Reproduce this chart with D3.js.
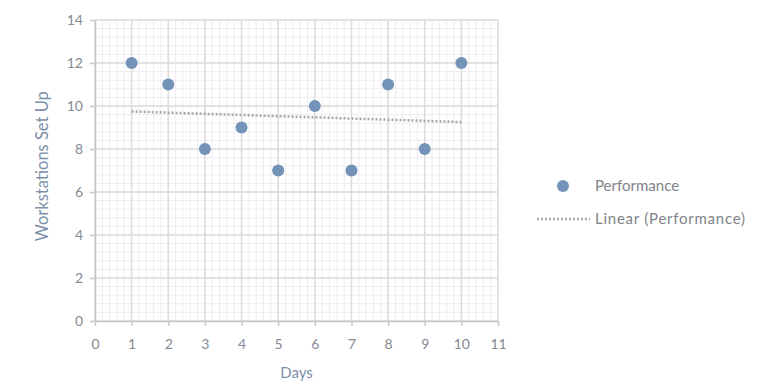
<!DOCTYPE html>
<html>
<head>
<meta charset="utf-8">
<script src="https://cdn.jsdelivr.net/npm/d3@7"></script>
<style>
  body { margin: 0; background: #fff; }
  svg { display: block; font-family: "Lato", "Open Sans", sans-serif; }
</style>
</head>
<body>
<div id="chart"></div>
<script>
// data
const days = [1, 2, 3, 4, 5, 6, 7, 8, 9, 10];
const workstations = [12, 11, 8, 9, 7, 10, 7, 11, 8, 12];
const xTicks = [0, 1, 2, 3, 4, 5, 6, 7, 8, 9, 10, 11];
const yTicks = [0, 2, 4, 6, 8, 10, 12, 14];
const seriesName = "Performance";

const width = 757;
const height = 384;
const margin = { top: 20, right: 259, bottom: 63, left: 95 };

const svg = d3
  .select("#chart")
  .append("svg")
  .attr("width", width)
  .attr("height", height);

const x = d3
  .scaleLinear()
  .domain([0, 11])
  .range([margin.left, width - margin.right]);
const y = d3
  .scaleLinear()
  .domain([0, 14])
  .range([height - margin.bottom, margin.top]);

// minor grid
const minorX = d3.range(0, 11.001, 0.2);
const minorY = d3.range(0, 14.001, 0.4);
const grid = svg.append("g");
grid
  .selectAll(".mx")
  .data(minorX)
  .enter()
  .append("line")
  .attr("x1", (d) => x(d))
  .attr("x2", (d) => x(d))
  .attr("y1", y(0))
  .attr("y2", y(14))
  .attr("stroke", "#eeecf2")
  .attr("stroke-width", 1);
grid
  .selectAll(".my")
  .data(minorY)
  .enter()
  .append("line")
  .attr("x1", x(0))
  .attr("x2", x(11))
  .attr("y1", (d) => y(d))
  .attr("y2", (d) => y(d))
  .attr("stroke", "#eeecf2")
  .attr("stroke-width", 1);

// major grid
grid
  .selectAll(".gx")
  .data(xTicks)
  .enter()
  .append("line")
  .attr("x1", (d) => x(d))
  .attr("x2", (d) => x(d))
  .attr("y1", y(0))
  .attr("y2", y(14))
  .attr("stroke", "#dcdcdc")
  .attr("stroke-width", 1.5);
grid
  .selectAll(".gy")
  .data(yTicks)
  .enter()
  .append("line")
  .attr("x1", x(0))
  .attr("x2", x(11))
  .attr("y1", (d) => y(d))
  .attr("y2", (d) => y(d))
  .attr("stroke", "#dcdcdc")
  .attr("stroke-width", 1.5);

// axes
const xAxis = svg
  .append("g")
  .attr("transform", `translate(0,${y(0)})`)
  .call(d3.axisBottom(x).tickValues(xTicks).tickSize(5).tickSizeOuter(0));
const yAxis = svg
  .append("g")
  .attr("transform", `translate(${x(0)},0)`)
  .call(d3.axisLeft(y).tickValues(yTicks).tickSize(5).tickSizeOuter(0));

[xAxis, yAxis].forEach((g) => {
  g.select(".domain").attr("stroke", "#c8c8c8").attr("stroke-width", 1.5);
  g.selectAll(".tick line").attr("stroke", "#c8c8c8").attr("stroke-width", 1.5);
  g.selectAll(".tick text")
    .attr("fill", "#858a92")
    .style("font-size", "14px")
    .style("font-family", "Lato, sans-serif");
});
xAxis.selectAll(".tick text").attr("dy", "1.45em");
yAxis.selectAll(".tick text").attr("x", -12);

// trend line (least squares of the series)
const mx = d3.mean(days);
const my = d3.mean(workstations);
const slope =
  d3.sum(days, (d, i) => (d - mx) * (workstations[i] - my)) /
  d3.sum(days, (d) => (d - mx) * (d - mx));
const intercept = my - slope * mx;
const trendX = [d3.min(days), d3.max(days)];

svg
  .append("line")
  .attr("x1", x(trendX[0]))
  .attr("y1", y(intercept + slope * trendX[0]))
  .attr("x2", x(trendX[1]))
  .attr("y2", y(intercept + slope * trendX[1]))
  .attr("stroke", "#a6a6a6")
  .attr("stroke-width", 2.5)
  .attr("stroke-dasharray", "2,2");

// points
svg
  .selectAll(".pt")
  .data(days)
  .enter()
  .append("circle")
  .attr("cx", (d) => x(d))
  .attr("cy", (d, i) => y(workstations[i]))
  .attr("r", 6)
  .attr("fill", "#7394b8");

// axis titles
svg
  .append("text")
  .attr("x", x(5.5))
  .attr("y", 378)
  .attr("text-anchor", "middle")
  .attr("fill", "#7a8fa8")
  .style("font-size", "15px")
  .text("Days");

svg
  .append("text")
  .attr("transform", `translate(48,${y(7.2)}) rotate(-90)`)
  .attr("text-anchor", "middle")
  .attr("fill", "#7a8fa8")
  .style("font-size", "16.5px")
  .text("Workstations Set Up");

// legend
const legend = svg.append("g");
legend
  .append("circle")
  .attr("cx", 563)
  .attr("cy", 186)
  .attr("r", 6)
  .attr("fill", "#7394b8");
legend
  .append("text")
  .attr("x", 595)
  .attr("y", 191)
  .attr("fill", "#7f838a")
  .style("font-size", "15px")
  .text(seriesName);
legend
  .append("line")
  .attr("x1", 537)
  .attr("x2", 590)
  .attr("y1", 219)
  .attr("y2", 219)
  .attr("stroke", "#a6a6a6")
  .attr("stroke-width", 2.5)
  .attr("stroke-dasharray", "2,2");
legend
  .append("text")
  .attr("x", 595)
  .attr("y", 224)
  .attr("fill", "#7f838a")
  .style("font-size", "15px")
  .attr("textLength", 150)
  .text(`Linear (${seriesName})`);
</script>
</body>
</html>
